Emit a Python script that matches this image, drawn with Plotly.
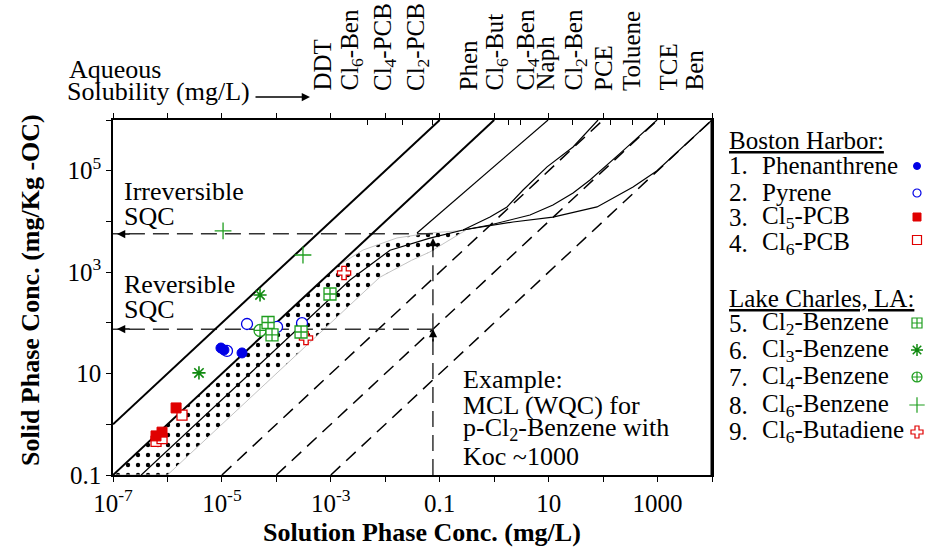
import plotly.graph_objects as go

FONT = "Liberation Serif"

# ---------------- data ----------------
# solid straight reference lines: endpoints [x0, x1], [y0, y1]
thick_lines_x = [[1e-7, 0.1], [1e-7, 1.0]]
thick_lines_y = [[1.0, 1e6], [0.1, 1e6]]
thin_line_x = [0.0383, 9.75]
thin_line_y = [5.9e3, 1e6]
# dashed reference lines
dashed_lines_x = [[1e-5, 100.0], [1e-4, 1000.0], [1e-3, 1e4]]
dashed_lines_y = [[0.1, 1e6], [0.1, 1e6], [0.1, 1e6]]

# isotherm curves
curveA_x = [3.3e-7, 2.25e-3, 1.22e-2, 6.6e-2, 0.268, 0.839, 1.72, 3.39, 9.35, 28.1, 80.8]
curveA_y = [0.1, 700, 2.7e3, 4.7e3, 6.78e3, 1.22e4, 1.93e4, 4.17e4, 1.19e5, 2.94e5, 1e6]
curveB_x = [0.268, 0.839, 4.55, 12.0, 28.1, 57.5, 205, 979]
curveB_y = [6.78e3, 8.5e3, 1.34e4, 2.11e4, 3.64e4, 6.56e4, 2.2e5, 1e6]
curveC_x = [0.268, 0.839, 2.22, 12.0, 77.4, 355, 979, 1e4]
curveC_y = [6.78e3, 8.2e3, 9.75e3, 1.22e4, 1.93e4, 4.78e4, 1.0e5, 1e6]

# stippled band outline
band_x = [1e-7, 1.3e-3, 3.9e-3, 1.64e-2, 6.64e-2, 0.3, 0.13, 0.066, 0.03, 7.9e-3, 1e-6, 1e-7]
band_y = [0.1, 1.3e3, 2.73e3, 4.72e3, 5.92e3, 6.7e3, 3.9e3, 2.5e3, 1.7e3, 790, 0.1, 0.1]

# SQC example values
mcl_x = 0.075
rev_sqc = 75
irr_sqc = 5.7e3
irr_arrow_tip = 4.9e3
x_min = 1e-7
y_min = 0.1

# measured points
phen_x = [9.6e-6, 1.09e-5, 2.34e-5]
phen_y = [31.9, 29.2, 25.5]
pyr_x = [2.89e-5, 1.03e-4, 2.96e-4, 1.24e-5]
pyr_y = [95, 83, 99, 27.9]
cl5pcb_x = [1.44e-6, 6.17e-7, 7.95e-7]
cl5pcb_y = [2.1, 0.59, 0.70]
cl6pcb_x = [1.85e-6, 6.17e-7, 7.95e-7]
cl6pcb_y = [1.52, 0.46, 0.52]
cl2ben_x = [7.03e-5, 8.32e-5, 2.84e-4, 9.66e-4]
cl2ben_y = [101.6, 57.7, 66, 371]
cl3ben_x = [5.01e-5, 3.79e-6]
cl3ben_y = [355, 10.3]
cl4ben_x = [5.01e-5]
cl4ben_y = [70.8]
cl6ben_x = [1.05e-5, 3.08e-4]
cl6ben_y = [6.5e3, 2.18e3]
cl6but_x = [1.75e-3, 3.50e-4]
cl6but_y = [961, 50.3]

# axis ticks
x_tickvals = [1e-7, 1e-6, 1e-5, 1e-4, 1e-3, 1e-2, 0.1, 1, 10, 100, 1000, 1e4]
x_ticktext = ["10<sup>-7</sup>", "", "10<sup>-5</sup>", "", "10<sup>-3</sup>", "", "0.1", "", "10", "", "1000", ""]
y_tickvals = [0.1, 1, 10, 100, 1e3, 1e4, 1e5, 1e6]
y_ticktext = ["0.1", "", "10", "", "10<sup>3</sup>", "", "10<sup>5</sup>", ""]

# aqueous solubility ticks (top axis) and labels
sol_ticks = [4.8e-3, 2.1e-2, 7.5e-2, 1.8, 3.1, 28, 134, 340, 1370]
top_labels = ["DDT", "Cl<sub>6</sub>-Ben", "Cl<sub>4</sub>-PCB", "Cl<sub>2</sub>-PCB", "Phen",
              "Cl<sub>6</sub>-But", "Cl<sub>4</sub>-Ben", "Naph", "Cl<sub>2</sub>-Ben", "PCE",
              "Toluene", "TCE", "Ben"]

legend_nums = ["1.", "2.", "3.", "4.", "5.", "6.", "7.", "8.", "9."]
legend_names = ["Phenanthrene", "Pyrene", "Cl<sub>5</sub>-PCB", "Cl<sub>6</sub>-PCB",
                "Cl<sub>2</sub>-Benzene", "Cl<sub>3</sub>-Benzene", "Cl<sub>4</sub>-Benzene",
                "Cl<sub>6</sub>-Benzene", "Cl<sub>6</sub>-Butadiene"]

# ---------------- layout constants (pixels) ----------------
W, H = 928, 550
L, R, T, B = 113, 0, 120, 75
PLOT_R = 712
PW = W - L - R
PH = H - T - B


def xp(px):
    return (px - L) / PW


def yp(py):
    return (H - B - py) / PH


BLUE = "#0000e6"
RED = "#e00000"
GREEN = "#1f9e1f"
DGREEN = "#108a10"

fig = go.Figure()

# stippled band
fig.add_trace(go.Scatter(
    x=band_x, y=band_y, mode="lines", fill="toself",
    fillcolor="white",
    fillpattern=dict(shape=".", size=10, solidity=0.15, fgcolor="#000000", fgopacity=1,
                     bgcolor="white", fillmode="replace"),
    line=dict(color="#c4c4c4", width=1), hoverinfo="skip"))

# dashed lines
for dx, dy in zip(dashed_lines_x, dashed_lines_y):
    fig.add_trace(go.Scatter(x=dx, y=dy, mode="lines",
                             line=dict(color="black", width=1.5, dash="13px,8px"), hoverinfo="skip"))

# SQC dashed guides
dash_guide = dict(color="#333333", width=1.5, dash="16px,8px")
fig.add_trace(go.Scatter(x=[mcl_x, x_min], y=[irr_sqc, irr_sqc], mode="lines", line=dash_guide))
fig.add_trace(go.Scatter(x=[mcl_x, x_min], y=[rev_sqc, rev_sqc], mode="lines", line=dash_guide))
fig.add_trace(go.Scatter(x=[mcl_x, mcl_x], y=[y_min, rev_sqc], mode="lines", line=dash_guide))
fig.add_trace(go.Scatter(x=[mcl_x, mcl_x], y=[rev_sqc, irr_arrow_tip], mode="lines", line=dash_guide))

# solid lines
for lx, ly in zip(thick_lines_x, thick_lines_y):
    fig.add_trace(go.Scatter(x=lx, y=ly, mode="lines", line=dict(color="black", width=2)))
fig.add_trace(go.Scatter(x=thin_line_x, y=thin_line_y, mode="lines", line=dict(color="black", width=1.2)))
for cx, cy in [(curveA_x, curveA_y), (curveB_x, curveB_y), (curveC_x, curveC_y)]:
    fig.add_trace(go.Scatter(x=cx, y=cy, mode="lines", line=dict(color="black", width=1.2)))

# data points
series = [
    (cl6but_x, cl6but_y, "cross", "white", RED, 11, 1.3),
    (pyr_x, pyr_y, "circle", "white", BLUE, 11, 1.3),
    (cl6pcb_x, cl6pcb_y, "square", "white", RED, 10, 1.3),
    (cl4ben_x, cl4ben_y, "circle-cross", "white", GREEN, 12, 1.3),
    (cl2ben_x, cl2ben_y, "square-cross", "white", GREEN, 12, 1.3),
    (phen_x, phen_y, "circle", BLUE, BLUE, 10, 1),
    (cl5pcb_x, cl5pcb_y, "square", RED, RED, 10, 1),
    (cl3ben_x, cl3ben_y, "asterisk-open", DGREEN, DGREEN, 11, 1.6),
    (cl6ben_x, cl6ben_y, "cross-thin-open", GREEN, GREEN, 12, 1.3),
]
for sx, sy, sym, fc, lc, sz, lw in series:
    fig.add_trace(go.Scatter(x=sx, y=sy, mode="markers",
                             marker=dict(symbol=sym, color=fc, size=sz, line=dict(color=lc, width=lw))))

# dummy trace for the inner top ticks axis
fig.add_trace(go.Scatter(x=[1], y=[1], xaxis="x2", yaxis="y", mode="markers",
                         marker=dict(opacity=0), hoverinfo="skip"))

# legend markers (pixel coordinate overlay axes)
leg_rows_py = [166, 193, 217, 240, 323, 350, 377, 405, 432]
leg_styles = [
    ("circle", BLUE, BLUE, 7, 1),
    ("circle", "white", BLUE, 8, 1.2),
    ("square", RED, RED, 8, 1),
    ("square", "white", RED, 9, 1.2),
    ("square-cross", "white", GREEN, 10, 1.2),
    ("asterisk-open", DGREEN, DGREEN, 10, 1.5),
    ("circle-cross", "white", GREEN, 10, 1.2),
    ("cross-thin-open", GREEN, GREEN, 11, 1.2),
    ("cross", "white", RED, 10, 1.2),
]
for py, (sym, fc, lc, sz, lw) in zip(leg_rows_py, leg_styles):
    fig.add_trace(go.Scatter(x=[917], y=[py], xaxis="x3", yaxis="y3", mode="markers",
                             marker=dict(symbol=sym, color=fc, size=sz, line=dict(color=lc, width=lw))))

ann = []
tf = dict(family=FONT, size=25, color="black")


def txt(px, py, text, xanchor="left", size=25, **kw):
    ann.append(dict(x=xp(px), y=yp(py), xref="paper", yref="paper", text=text, showarrow=False,
                    xanchor=xanchor, yanchor="middle", font=dict(family=FONT, size=size, color="black"), **kw))


# top rotated labels
top_label_px = [322, 351, 384, 417, 468, 496, 527, 545, 575, 603, 631, 668, 694]
for lab, px in zip(top_labels, top_label_px):
    ann.append(dict(x=xp(px), y=yp(93), xref="paper", yref="paper", text=lab, textangle=-90,
                    showarrow=False, xanchor="center", yanchor="bottom", font=dict(family=FONT, size=25, color="black")))

txt(67, 70, "Aqueous", size=26)
txt(65, 91, "Solubility (mg/L)", size=26)
ann.append(dict(x=xp(310), y=yp(97), xref="paper", yref="paper", text="", showarrow=True,
                ax=-56, ay=0, arrowhead=2, arrowsize=1.1, arrowwidth=1.5, arrowcolor="black"))

txt(122, 191, "Irreversible", size=26)
txt(122, 216, "SQC", size=26)
txt(122, 284, "Reversible", size=26)
txt(122, 309, "SQC", size=26)
txt(461, 379, "Example:", size=26)
txt(461, 405, "MCL (WQC) for", size=26)
txt(461, 429, "p-Cl<sub>2</sub>-Benzene with", size=26)
txt(461, 456, "Koc ~1000", size=26)

# arrowheads on SQC guides
for py in [234, 329]:
    ann.append(dict(x=xp(117), y=yp(py), xref="paper", yref="paper", text="", showarrow=True,
                    ax=14, ay=0, arrowhead=2, arrowsize=1.1, arrowwidth=1.5, arrowcolor="black"))
for py in [329, 238]:
    ann.append(dict(x=xp(433), y=yp(py), xref="paper", yref="paper", text="", showarrow=True,
                    ax=0, ay=14, arrowhead=2, arrowsize=1.1, arrowwidth=1.5, arrowcolor="black"))

# legend text
txt(727, 140, "<u>Boston Harbor:</u>")
txt(727, 298, "<u>Lake Charles, LA:</u>")
leg_text_py = [165, 192, 217, 243, 323, 350, 377, 405, 431]
for num, name, py in zip(legend_nums, legend_names, leg_text_py):
    txt(727, py, num)
    txt(760, py, name)

# axis titles
txt(422, 532, "<b>Solution Phase Conc. (mg/L)</b>", xanchor="center", size=26)
ann.append(dict(x=xp(30), y=yp(290), xref="paper", yref="paper", text="<b>Solid Phase Conc. (mg/Kg -OC)</b>",
                textangle=-90, showarrow=False, xanchor="center", yanchor="middle",
                font=dict(family=FONT, size=26, color="black")))

dom_r = (PLOT_R - L) / PW
fig.update_layout(
    width=W, height=H, margin=dict(l=L, r=R, t=T, b=B, pad=0),
    paper_bgcolor="white", plot_bgcolor="white", showlegend=False,
    font=dict(family=FONT, size=25, color="black"),
    xaxis=dict(type="log", range=[-7, 4], domain=[0, dom_r], showline=True, linecolor="black", linewidth=1.5,
               mirror="ticks", ticks="outside", ticklen=5, tickwidth=1.2, tickcolor="black",
               tickvals=x_tickvals, ticktext=x_ticktext, showgrid=False, zeroline=False, tickfont=tf),
    xaxis2=dict(type="log", range=[-7, 4], overlaying="x", side="top", anchor="y", tickvals=sol_ticks,
                ticks="inside", ticklen=5, tickwidth=1.2, tickcolor="black", showticklabels=False,
                showline=False, showgrid=False, zeroline=False),
    yaxis=dict(type="log", range=[-1, 6], domain=[0, 1], showline=True, linecolor="black", linewidth=1.5,
               mirror=True, ticks="outside", ticklen=5, tickwidth=1.2, tickcolor="black",
               tickvals=y_tickvals, ticktext=y_ticktext, showgrid=False, zeroline=False, tickfont=tf),
    xaxis3=dict(domain=[(716 - L) / PW, 1], range=[716, 928], visible=False, anchor="y3"),
    yaxis3=dict(domain=[0, 1], range=[H - B, T], visible=False, anchor="x3"),
    annotations=ann,
    shapes=[dict(type="line", xref="paper", yref="paper", x0=dom_r, x1=dom_r, y0=0, y1=1,
                 line=dict(color="black", width=3))],
)

fig.write_html("out.html")
